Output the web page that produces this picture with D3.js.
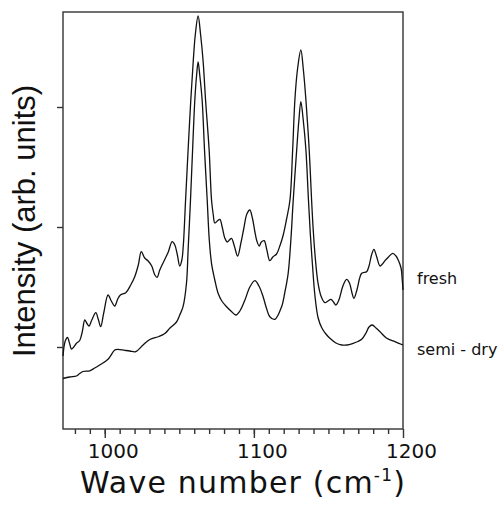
<!DOCTYPE html>
<html>
<head>
<meta charset="utf-8">
<script src="https://cdn.jsdelivr.net/npm/d3@7"></script>
<style>
  html, body { margin: 0; padding: 0; background: #fff; }
  svg { display: block; }
  .curve { fill: none; stroke: #111; stroke-width: 1.3; }
  .axis path, .axis line { stroke: #333; stroke-width: 1.4; }
</style>
</head>
<body>
<svg id="chart" width="500" height="506"></svg>
<script>
// Raman spectra
const wnFresh = [972.0, 973.5, 975.0, 976.5, 977.7, 979.2, 980.9, 983.2, 984.9, 986.6,
  987.9, 989.5, 991.3, 994.0, 995.6, 997.3, 999.3, 1002.2, 1004.4, 1006.7,
  1008.7, 1010.5, 1014.1, 1017.4, 1020.1, 1022.5, 1024.5, 1026.8, 1029.1, 1031.5,
  1033.6, 1035.1, 1036.9, 1040.3, 1042.6, 1045.2, 1047.0, 1048.7, 1050.3, 1051.7,
  1052.7, 1054.2, 1055.9, 1057.7, 1059.3, 1060.7, 1062.6, 1064.3, 1066.0, 1067.6,
  1070.0, 1071.6, 1072.7, 1073.8, 1075.5, 1077.2, 1078.9, 1080.5, 1082.1, 1083.6,
  1085.0, 1086.9, 1089.1, 1091.3, 1093.3, 1095.3, 1097.3, 1099.0, 1100.7, 1102.0,
  1103.6, 1105.0, 1106.9, 1108.7, 1110.7, 1112.7, 1115.2, 1117.4, 1119.5, 1121.8,
  1124.2, 1126.0, 1127.5, 1129.2, 1131.5, 1133.2, 1134.9, 1137.1, 1138.7, 1139.8,
  1141.3, 1143.0, 1145.0, 1147.6, 1149.7, 1151.7, 1153.4, 1155.0, 1157.0, 1159.7,
  1162.2, 1164.1, 1165.8, 1167.1, 1169.1, 1172.3, 1175.6, 1177.2, 1178.9, 1180.5,
  1182.2, 1184.6, 1186.2, 1187.9, 1190.3, 1193.1, 1195.3, 1196.8, 1198.7, 1199.5, 1200.0];
const intFresh = [71, 86, 89.5, 83, 78, 80, 83.5, 86.5, 95, 107,
  104, 101, 107, 114.3, 108, 100.3, 114, 132, 126, 121,
  128, 132, 134.3, 142, 150.3, 162, 175.3, 169, 166, 161,
  152, 149.7, 157, 167.7, 175, 185.3, 182, 172, 161, 167,
  182, 227, 277, 327, 365, 392, 411, 392, 365, 327,
  277, 227, 213, 204, 206, 207.7, 199, 189, 185, 187,
  188.7, 181, 171, 184, 199, 213, 217, 209, 195, 186,
  181, 185, 186.3, 177, 166.3, 170, 173, 181, 191, 207,
  227, 277, 327, 357, 377, 357, 327, 277, 227, 197,
  167, 144, 131, 124.3, 126, 127.7, 125, 122, 127, 141,
  147.7, 144, 134, 128.7, 137, 153.7, 155.3, 161, 172, 177.7,
  171, 161, 163, 166.3, 170, 173.7, 171, 167, 159, 147, 137];

const wnSemi = [972.0, 976.5, 981.0, 983.2, 985.4, 989.9, 993.3, 996.6, 1002.2, 1006.7,
  1008.7, 1013.4, 1016.8, 1020.8, 1025.7, 1030.2, 1036.4, 1040.3, 1043.6, 1048.1,
  1050.3, 1052.5, 1054.8, 1055.9, 1057.5, 1058.9, 1060.4, 1061.6, 1062.6, 1063.7,
  1065.3, 1066.9, 1068.7, 1070.1, 1071.6, 1073.8, 1076.0, 1078.5, 1081.7, 1084.6,
  1087.9, 1090.6, 1094.0, 1097.3, 1100.7, 1103.4, 1106.2, 1108.4, 1110.7, 1114.1,
  1118.6, 1120.8, 1123.0, 1124.8, 1126.4, 1128.7, 1130.2, 1131.5, 1133.1, 1134.9,
  1136.6, 1137.9, 1139.3, 1140.9, 1143.1, 1145.6, 1148.3, 1151.0, 1155.0, 1158.9,
  1162.4, 1166.6, 1169.8, 1172.3, 1175.2, 1177.2, 1179.4, 1181.9, 1184.6, 1189.1, 1194.6, 1200.0];
const intSemi = [48.5, 50, 51, 53.5, 55.5, 56.2, 59, 62, 67.7, 77,
  77.7, 76.7, 76, 75.3, 82, 87.5, 90.5, 93.5, 98.7, 105,
  112, 120.3, 143.7, 177, 227, 277, 327, 352, 365, 352,
  327, 277, 227, 187, 163.7, 147, 133.7, 126, 120.3, 116,
  112, 116, 127, 140, 146.3, 141, 130.3, 119, 110.3, 107.7,
  120.3, 135, 153.7, 187, 227, 277, 307, 325.3, 307, 277,
  227, 192, 162, 132, 109, 99, 93, 88.7, 84, 82,
  82, 83.7, 85.5, 87.7, 94, 100, 102, 99, 95.3, 88.7, 85.3, 82];

const majorTicks = [1000, 1100, 1200];
const minorTicks = [980, 990, 1000, 1010, 1020, 1030, 1040, 1050, 1060, 1070, 1080, 1090,
  1100, 1110, 1120, 1130, 1140, 1150, 1160, 1170, 1180, 1190];
const yTicks = [80, 200, 320];

const seriesNames = ['fresh', 'semi - dry'];

const margin = { left: 63, top: 12, right: 97, bottom: 77 };
const width = 500, height = 506;

const svg = d3.select('#chart');

const x = d3.scaleLinear().domain([972, 1200]).range([margin.left, width - margin.right]);
const y = d3.scaleLinear().domain([-2, 415]).range([height - margin.bottom, margin.top]);

// frame
svg.append('rect')
  .attr('x', x(972)).attr('y', y(415))
  .attr('width', x(1200) - x(972)).attr('height', y(-2) - y(415))
  .attr('fill', 'none').attr('stroke', '#333').attr('stroke-width', 1.4);

// x axis: minor + major ticks
const xMinor = svg.append('g').attr('class', 'axis')
  .attr('transform', `translate(0,${y(-2)})`)
  .call(d3.axisBottom(x).tickValues(minorTicks).tickSize(5).tickFormat(''));
xMinor.select('.domain').remove();

const xMajor = svg.append('g').attr('class', 'axis')
  .attr('transform', `translate(0,${y(-2)})`)
  .call(d3.axisBottom(x).tickValues(majorTicks).tickSize(9).tickFormat(d3.format('d')));
xMajor.select('.domain').remove();
xMajor.selectAll('text')
  .attr('y', 29).attr('dy', null).attr('dx', 8)
  .attr('font-family', 'DejaVu Sans').attr('font-size', 20).attr('fill', '#111');

// y axis: ticks only
const yAx = svg.append('g').attr('class', 'axis')
  .attr('transform', `translate(${x(972)},0)`)
  .call(d3.axisLeft(y).tickValues(yTicks).tickSize(6).tickFormat(''));
yAx.select('.domain').remove();

// spectra
const line = d3.line()
  .x(d => x(d[0]))
  .y(d => y(d[1]))
  .curve(d3.curveCatmullRom.alpha(0.5));

const fresh = d3.zip(wnFresh, intFresh);
const semi = d3.zip(wnSemi, intSemi);

svg.append('path').attr('class', 'curve').attr('d', line(fresh));
svg.append('path').attr('class', 'curve').attr('d', line(semi));

// series labels at right
svg.append('text')
  .attr('x', 417).attr('y', 284)
  .attr('font-family', 'DejaVu Sans').attr('font-size', 16).attr('fill', '#111')
  .text(seriesNames[0]);
svg.append('text')
  .attr('x', 417).attr('y', 355)
  .attr('font-family', 'DejaVu Sans').attr('font-size', 16).attr('fill', '#111')
  .text(seriesNames[1]);

// axis titles
const xt = svg.append('text')
  .attr('x', 243).attr('y', 493)
  .attr('text-anchor', 'middle')
  .attr('letter-spacing', 1.2)
  .attr('font-family', 'DejaVu Sans').attr('font-size', 30).attr('fill', '#111');
xt.append('tspan').text('Wave number (cm');
xt.append('tspan').attr('dy', -12).attr('font-size', 17).text('-1');
xt.append('tspan').attr('dy', 12).text(')');

svg.append('text')
  .attr('transform', 'translate(35,221) rotate(-90)')
  .attr('text-anchor', 'middle')
  .attr('font-family', 'Liberation Sans').attr('font-size', 31).attr('fill', '#111')
  .text('Intensity (arb. units)');
</script>
</body>
</html>
